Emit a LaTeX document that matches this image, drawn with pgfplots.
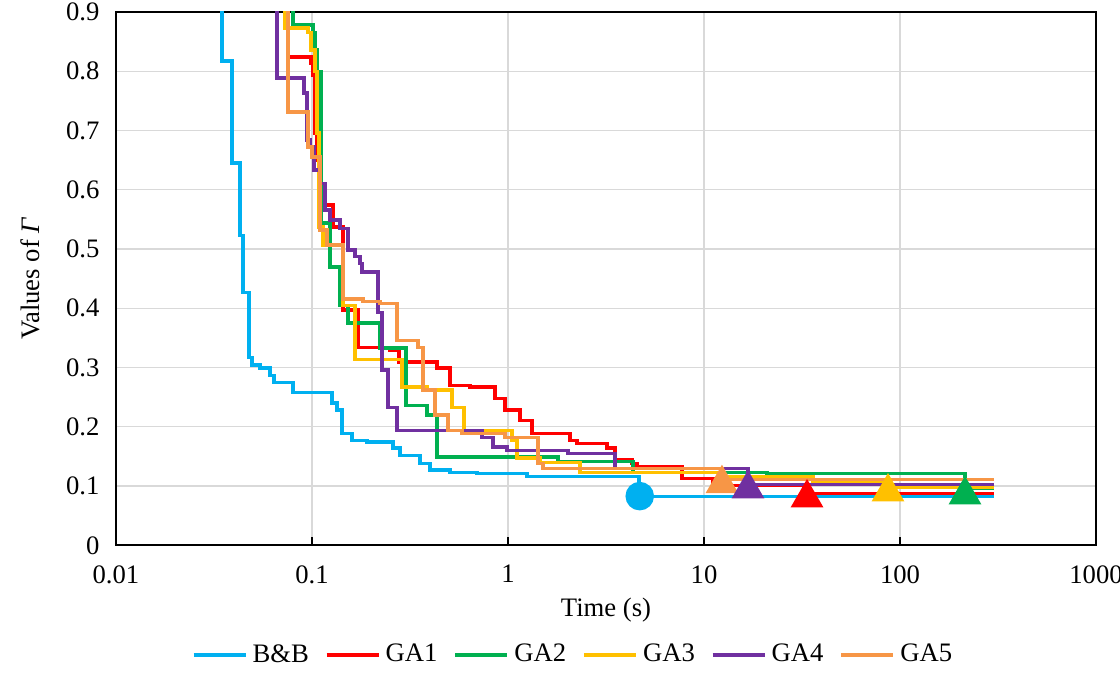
\documentclass[border=0pt]{standalone}
\usepackage{pgfplots}
\pgfplotsset{compat=1.18}
\usepackage{fontspec}
\setmainfont{Liberation Serif}

\definecolor{cBB}{HTML}{00B0F0}
\definecolor{cGA1}{HTML}{FF0000}
\definecolor{cGA2}{HTML}{00B050}
\definecolor{cGA3}{HTML}{FFC000}
\definecolor{cGA4}{HTML}{7030A0}
\definecolor{cGA5}{HTML}{F79646}

\begin{document}
\begin{tikzpicture}
\begin{axis}[
  scale only axis, width=367.5pt, height=200pt,
  xmode=log, xmin=0.01, xmax=1000, ymin=0, ymax=0.9,
  xtick={0.01,0.1,1,10,100,1000},
  xticklabels={0.01,0.1,1,10,100,1000},
  xminorticks=false,
  ytick={0,0.1,0.2,0.3,0.4,0.5,0.6,0.7,0.8,0.9},
  yticklabels={0,0.1,0.2,0.3,0.4,0.5,0.6,0.7,0.8,0.9},
  grid=major, major grid style={black!15, line width=0.5pt},
  axis line style={line width=0.8pt},
  tick align=inside, xtick pos=lower, major tick length=3pt,
  xtick style={black, line width=0.6pt},
  ytick style={draw=none},
  xticklabel style={yshift=-4pt},
  yticklabel style={xshift=-2.7pt},
  xlabel={Time (s)},
  ylabel={Values of \textit{Γ}},
  xlabel style={at={(axis description cs:0.5,-0.122)}, anchor=center},
  ylabel style={at={(axis description cs:-0.087,0.5)}, anchor=center},
  legend style={at={(axis description cs:0.468,-0.206)}, anchor=center,
    draw=none, fill=none, legend columns=6,
    /tikz/every even column/.append style={column sep=4pt}},
  legend image code/.code={\draw[#1] (0pt,0pt) -- (19.5pt,0pt);},
  const plot,
  every axis plot/.append style={line width=1.3pt},
]
% B&B
\addplot[cBB] coordinates {
  (0.0348,1.0) (0.0348,0.817) (0.0391,0.645) (0.0429,0.523) (0.0445,0.427)
  (0.0477,0.317) (0.0494,0.304) (0.0543,0.299) (0.0611,0.287) (0.064,0.275)
  (0.080,0.258) (0.1265,0.240) (0.134,0.228) (0.142,0.189) (0.160,0.177)
  (0.191,0.174) (0.259,0.164) (0.281,0.152) (0.356,0.138) (0.400,0.127)
  (0.506,0.123) (0.695,0.121) (1.25,0.116) (4.66,0.082) (300,0.082)};
% GA1
\addplot[cGA1] coordinates {
  (0.0754,1.0) (0.0754,0.824) (0.0988,0.814) (0.1012,0.794) (0.1036,0.696)
  (0.1060,0.650) (0.1086,0.574) (0.1280,0.537) (0.1440,0.397) (0.1717,0.334)
  (0.2500,0.329) (0.2779,0.309) (0.4344,0.299) (0.5059,0.270) (0.6400,0.267)
  (0.8584,0.248) (0.9654,0.228) (1.151,0.211) (1.326,0.189) (2.072,0.177)
  (2.249,0.172) (3.200,0.164) (3.515,0.144) (4.293,0.138) (4.552,0.132)
  (7.723,0.113) (11.11,0.101) (33.55,0.087) (300,0.087)};
% GA2
\addplot[cGA2] coordinates {
  (0.0800,1.0) (0.0800,0.878) (0.1012,0.865) (0.1036,0.836) (0.1060,0.799)
  (0.1112,0.544) (0.1235,0.470) (0.1390,0.405) (0.1527,0.375) (0.2223,0.333)
  (0.3017,0.236) (0.3862,0.220) (0.4344,0.149) (1.799,0.141) (4.344,0.123)
  (20.96,0.121) (214.6,0.096) (300,0.096)};
% GA3
\addplot[cGA3] coordinates {
  (0.0728,1.0) (0.0728,0.873) (0.0954,0.865) (0.0988,0.836) (0.1036,0.800)
  (0.1060,0.696) (0.1086,0.537) (0.1138,0.507) (0.1440,0.405) (0.1657,0.314)
  (0.2879,0.267) (0.3862,0.262) (0.5179,0.233) (0.5964,0.194) (1.048,0.177)
  (1.111,0.147) (1.456,0.140) (2.329,0.123) (12.07,0.115) (35.98,0.106)
  (86.85,0.098) (300,0.098)};
% GA4
\addplot[cGA4] coordinates {
  (0.0663,1.0) (0.0663,0.789) (0.0910,0.763) (0.0943,0.684) (0.0977,0.672)
  (0.1024,0.633) (0.1099,0.611) (0.1165,0.566) (0.1235,0.549) (0.1390,0.535)
  (0.1527,0.498) (0.1657,0.487) (0.1758,0.476) (0.1800,0.461) (0.2172,0.393)
  (0.2276,0.296) (0.2442,0.233) (0.2714,0.194) (0.7369,0.182) (0.8385,0.166)
  (0.9883,0.160) (2.024,0.155) (3.515,0.130) (16.77,0.103) (300,0.103)};
% GA5
\addplot[cGA5] coordinates {
  (0.0754,1.0) (0.0754,0.731) (0.0954,0.672) (0.1,0.655) (0.1099,0.532)
  (0.1192,0.507) (0.1440,0.416) (0.1821,0.411) (0.2223,0.408) (0.2714,0.346)
  (0.3474,0.334) (0.3685,0.262) (0.4243,0.220) (0.4942,0.194) (0.5826,0.189)
  (0.9654,0.182) (1.422,0.138) (1.508,0.130) (12.35,0.111) (300,0.111)};
\legend{B\&B, GA1, GA2, GA3, GA4, GA5}
% best solutions
\addplot[only marks, mark=*, mark size=4.7pt, cBB, forget plot] coordinates {(4.7,0.083)};
\addplot[only marks, mark=triangle*, mark size=5.8pt, cGA5, forget plot] coordinates {(12.35,0.104)};
\addplot[only marks, mark=triangle*, mark size=5.8pt, cGA4, forget plot] coordinates {(16.77,0.095)};
\addplot[only marks, mark=triangle*, mark size=5.8pt, cGA1, forget plot] coordinates {(33.55,0.080)};
\addplot[only marks, mark=triangle*, mark size=5.8pt, cGA3, forget plot] coordinates {(86.85,0.090)};
\addplot[only marks, mark=triangle*, mark size=5.8pt, cGA2, forget plot] coordinates {(214.6,0.085)};
\end{axis}
\pgfresetboundingbox
\path[use as bounding box] ([xshift=-43.5pt,yshift=-54.75pt]current axis.south west)
  rectangle ([xshift=9pt,yshift=4.5pt]current axis.north east);
\end{tikzpicture}
\end{document}
